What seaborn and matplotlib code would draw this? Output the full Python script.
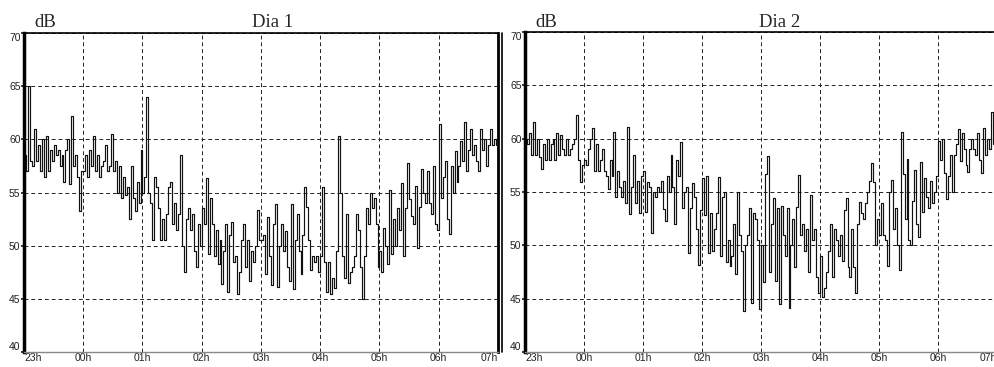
import numpy as np
import matplotlib
matplotlib.use("Agg")
import matplotlib.pyplot as plt
import seaborn as sns

# tick labels along the night
hours = ["23h", "00h", "01h", "02h", "03h", "04h", "05h", "06h", "07h"]

# noise level (dB), one reading every 2 minutes, one row per hour
dia1_db = [
    58.5, 57.0, 65.0, 58.0, 57.5, 61.0, 58.0, 59.5, 57.0, 60.0, 56.5, 60.3, 57.0, 59.0, 58.0,
    59.5, 58.5, 59.0, 57.5, 58.5, 56.0, 59.0, 60.0, 55.8, 62.2, 57.5, 58.5, 56.5, 53.3, 57.0,
    57.0, 58.5, 56.5, 59.0, 57.5, 60.3, 57.0, 58.5, 56.5, 57.5, 58.0, 59.5, 57.0, 57.5, 60.5,
    57.0, 58.0, 55.0, 57.5, 54.5, 56.5, 54.8, 55.5, 52.5, 57.5, 54.5, 53.3, 56.0, 54.0, 59.0,
    55.0, 56.5, 64.0, 55.0, 54.0, 50.5, 56.5, 55.5, 53.5, 50.5, 52.5, 50.5, 53.0, 55.5, 56.0,
    52.0, 54.0, 51.5, 53.0, 58.5, 50.0, 47.5, 52.5, 53.5, 51.5, 53.0, 49.5, 48.0, 52.0, 50.0,
    53.5, 52.0, 56.4, 49.2, 54.5, 52.0, 49.0, 51.5, 48.3, 50.5, 46.4, 49.5, 52.0, 45.6, 51.0,
    52.2, 48.5, 49.0, 45.5, 47.5, 50.5, 52.0, 48.0, 50.5, 46.7, 49.5, 48.5, 50.0, 53.4, 50.5,
    50.5, 51.0, 47.3, 52.7, 49.0, 46.3, 52.0, 53.9, 46.1, 50.0, 52.0, 49.5, 51.4, 48.0, 46.7,
    53.9, 45.9, 50.5, 53.0, 49.5, 47.3, 51.0, 55.5, 53.6, 50.5, 47.7, 49.0, 48.5, 49.0, 47.5,
    49.0, 55.5, 48.5, 45.6, 48.5, 45.5, 47.0, 46.0, 49.5, 60.3, 55.0, 49.0, 47.0, 53.0, 46.5,
    47.5, 48.0, 49.0, 53.0, 51.5, 48.0, 45.0, 49.0, 53.5, 52.0, 55.0, 53.5, 54.5, 52.0, 48.0,
    49.5, 47.5, 51.7, 50.0, 48.3, 55.2, 49.2, 52.5, 50.0, 53.5, 51.5, 55.9, 49.0, 53.5, 57.8,
    54.4, 52.8, 52.0, 55.6, 49.8, 53.6, 57.2, 55.0, 54.0, 57.0, 54.0, 53.0, 57.5, 52.0, 51.5,
    61.4, 54.5, 56.5, 58.0, 52.5, 51.1, 57.5, 55.0, 58.9, 56.0, 57.5, 59.8, 58.0, 61.6, 57.0,
    59.0, 61.0, 58.5, 59.5, 58.0, 57.0, 61.0, 59.0, 60.0, 57.5, 59.5, 61.0, 59.5, 60.0, 59.5,
]

dia2_db = [
    60.0, 59.5, 60.5, 58.5, 61.6, 58.5, 60.0, 58.3, 57.2, 59.5, 58.0, 60.0, 58.0, 59.5, 60.0,
    58.0, 60.5, 58.5, 60.3, 59.0, 58.5, 60.0, 58.5, 59.0, 59.5, 60.0, 62.2, 58.0, 55.9, 57.5,
    58.0, 57.5, 59.0, 60.0, 61.0, 57.0, 59.5, 57.0, 58.0, 59.0, 57.0, 56.5, 55.3, 58.0, 56.5,
    60.6, 54.5, 57.0, 55.5, 54.5, 56.0, 54.0, 61.1, 52.9, 55.5, 58.5, 54.0, 56.0, 53.0, 56.5,
    57.0, 53.1, 55.9, 55.5, 51.2, 55.0, 54.5, 55.5, 55.0, 56.0, 53.4, 52.3, 56.5, 55.0, 58.5,
    55.5, 52.0, 58.0, 56.5, 59.7, 53.5, 55.0, 55.5, 49.3, 53.5, 55.8, 54.5, 51.5, 48.2, 53.3,
    56.3, 52.8, 56.5, 49.3, 53.0, 49.5, 51.5, 53.0, 56.4, 49.0, 54.5, 55.0, 48.4, 50.5, 48.1,
    49.0, 52.0, 47.3, 55.0, 51.0, 49.5, 43.8, 50.0, 51.0, 53.5, 44.6, 53.0, 52.5, 50.5, 44.0,
    50.0, 46.6, 56.7, 58.4, 47.5, 52.0, 54.4, 46.7, 53.5, 44.5, 53.7, 51.0, 49.0, 53.5, 44.1,
    50.0, 52.5, 48.0, 53.6, 56.6, 51.0, 52.0, 49.5, 51.5, 47.5, 54.7, 50.5, 51.5, 47.0, 45.5,
    49.0, 45.2, 46.0, 47.5, 49.5, 52.0, 47.0, 51.5, 50.5, 49.0, 51.0, 48.5, 53.3, 54.4, 48.0,
    47.0, 51.5, 48.0, 45.5, 52.0, 54.1, 53.0, 52.5, 54.0, 55.0, 56.0, 57.7, 55.9, 50.0, 52.5,
    51.0, 54.0, 51.0, 50.5, 48.1, 55.0, 56.1, 51.5, 53.5, 50.0, 47.7, 60.6, 56.7, 52.5, 58.1,
    50.5, 50.0, 54.2, 57.1, 52.0, 50.8, 57.8, 53.1, 56.3, 54.5, 53.5, 56.0, 54.0, 55.0, 56.5,
    59.8, 58.0, 60.0, 56.8, 54.3, 56.5, 58.5, 55.0, 58.5, 59.5, 60.9, 57.9, 60.5, 59.0, 57.5,
    56.9, 59.0, 60.0, 59.0, 58.5, 60.5, 58.0, 56.8, 61.0, 58.5, 60.0, 59.0, 62.5, 59.5, 60.0,
]

# sample time in hours after 23h
t = np.arange(len(dia1_db)) * 2 / 60

sns.set_theme(style="white")
plt.rcParams["font.family"] = ["Liberation Sans", "DejaVu Sans"]

W, H = 995, 367
fig = plt.figure(figsize=(W / 100, H / 100), dpi=100)


def add_axes_px(left, right, top, bottom):
    return fig.add_axes([left / W, 1 - bottom / H, (right - left) / W, (bottom - top) / H])


panels = [
    (dia1_db, "Dia 1", (24, 498, 33, 352), 273),
    (dia2_db, "Dia 2", (525, 997, 32, 352), 780),
]

for values, title, box, title_x in panels:
    ax = add_axes_px(*box)
    sns.lineplot(x=t, y=values, ax=ax, estimator=None, drawstyle="steps-post",
                 color="#111111", linewidth=0.85)
    ax.set_xlim(0, 8)
    ax.set_ylim(40, 70)
    ax.set_xticks(range(len(hours)))
    ax.set_xticklabels(hours)
    ax.set_yticks(range(40, 71, 5))
    ax.grid(True, linestyle=(0, (4, 3)), color="#222222", linewidth=0.7)

    ax.tick_params(axis="y", length=2, pad=0.5, labelsize=7.5, labelcolor="#222222", left=True)
    ax.tick_params(axis="x", length=0, pad=0.5, labelsize=7.5, labelcolor="#222222", bottom=True)
    xl = ax.get_xticklabels()
    xl[0].set_ha("left")
    xl[-1].set_ha("right")
    yl = ax.get_yticklabels()
    yl[-1].set_va("top")
    yl[0].set_va("bottom")

    ax.spines["left"].set_linewidth(2.5)
    ax.spines["left"].set_color("black")
    ax.spines["top"].set_linewidth(1.2)
    ax.spines["top"].set_color("black")
    ax.spines["right"].set_linewidth(2)
    ax.spines["right"].set_color("black")
    ax.spines["bottom"].set_linewidth(1)
    ax.spines["bottom"].set_color("#888888")

    fig.text(title_x / W, 1 - 27 / H, title, ha="center", va="baseline",
             family="Liberation Serif", fontsize=13.5)
    fig.text((box[0] + 10) / W, 1 - 27 / H, "dB", ha="left", va="baseline",
             family="Liberation Serif", fontsize=13.5)

# outer frame line between the two panels
fig.add_artist(plt.Line2D([502 / W, 502 / W], [1 - 352 / H, 1 - 33 / H],
                          color="black", linewidth=1.2))

fig.savefig("out.png", dpi=100)
